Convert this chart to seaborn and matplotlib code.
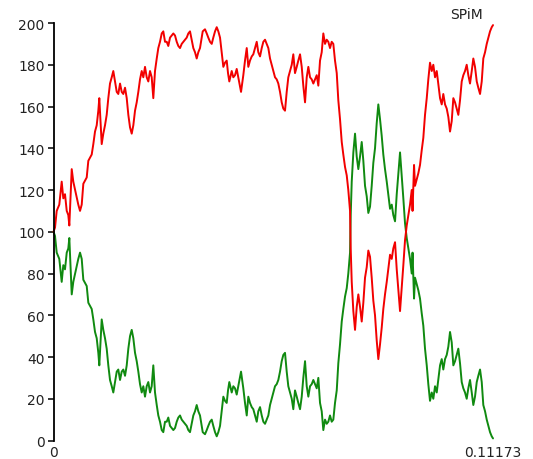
import numpy as np
import pandas as pd
import matplotlib
matplotlib.use("Agg")
import matplotlib.pyplot as plt
import seaborn as sns

# Simulation time points (s)
time = [
    0.0, 0.00038, 0.00081, 0.00147, 0.00208, 0.00249, 0.00292, 0.00336, 0.00376, 0.00402,
    0.00437, 0.00463, 0.00503, 0.00572, 0.00630, 0.00674, 0.00717, 0.00758, 0.00844, 0.00885,
    0.00971, 0.01012, 0.01055, 0.01098, 0.01139, 0.01164, 0.01225, 0.01266, 0.01309, 0.01352,
    0.01393, 0.01436, 0.01480, 0.01520, 0.01563, 0.01607, 0.01647, 0.01691, 0.01734, 0.01774,
    0.01818, 0.01861, 0.01902, 0.01945, 0.01988, 0.02029, 0.02072, 0.02115, 0.02156, 0.02199,
    0.02242, 0.02283, 0.02326, 0.02369, 0.02410, 0.02453, 0.02496, 0.02537, 0.02580, 0.02624,
    0.02664, 0.02707, 0.02751, 0.02791, 0.02835, 0.02878, 0.02918, 0.02962, 0.03005, 0.03046,
    0.03089, 0.03132, 0.03173, 0.03216, 0.03259, 0.03300, 0.03343, 0.03386, 0.03427, 0.03470,
    0.03513, 0.03554, 0.03597, 0.03640, 0.03681, 0.03724, 0.03768, 0.03793, 0.03851, 0.03895,
    0.03935, 0.03979, 0.04022, 0.04062, 0.04106, 0.04149, 0.04190, 0.04233, 0.04276, 0.04317,
    0.04360, 0.04403, 0.04436, 0.04469, 0.04530, 0.04571, 0.04614, 0.04657, 0.04698, 0.04741,
    0.04767, 0.04825, 0.04868, 0.04912, 0.04952, 0.04995, 0.05039, 0.05079, 0.05122, 0.05166,
    0.05206, 0.05250, 0.05293, 0.05334, 0.05377, 0.05420, 0.05461, 0.05504, 0.05547, 0.05588,
    0.05631, 0.05674, 0.05715, 0.05758, 0.05801, 0.05842, 0.05885, 0.05928, 0.05969, 0.06012,
    0.06056, 0.06096, 0.06139, 0.06183, 0.06223, 0.06267, 0.06310, 0.06350, 0.06394, 0.06437,
    0.06478, 0.06521, 0.06564, 0.06605, 0.06648, 0.06691, 0.06732, 0.06775, 0.06818, 0.06859,
    0.06902, 0.06945, 0.06986, 0.07029, 0.07072, 0.07113, 0.07156, 0.07200, 0.07240, 0.07283,
    0.07327, 0.07367, 0.07411, 0.07454, 0.07494, 0.07538, 0.07555, 0.07581, 0.07622, 0.07665,
    0.07708, 0.07749, 0.07792, 0.07835, 0.07876, 0.07919, 0.07962, 0.08003, 0.08046, 0.08089,
    0.08130, 0.08173, 0.08216, 0.08257, 0.08300, 0.08343, 0.08384, 0.08427, 0.08471, 0.08511,
    0.08555, 0.08598, 0.08638, 0.08682, 0.08725, 0.08766, 0.08809, 0.08852, 0.08893, 0.08936,
    0.08979, 0.09020, 0.09063, 0.09106, 0.09127, 0.09165, 0.09190, 0.09233, 0.09274, 0.09317,
    0.09360, 0.09401, 0.09444, 0.09488, 0.09528, 0.09571, 0.09615, 0.09655, 0.09699, 0.09742,
    0.09782, 0.09826, 0.09869, 0.09909, 0.09953, 0.09996, 0.10037, 0.10080, 0.10123, 0.10164,
    0.10207, 0.10250, 0.10291, 0.10334, 0.10377, 0.10418, 0.10461, 0.10504, 0.10545, 0.10588,
    0.10632, 0.10672, 0.10715, 0.10759, 0.10799, 0.10843, 0.10886, 0.10926, 0.10970, 0.11013,
    0.11054, 0.11097, 0.11140, 0.11173,
]

# Molecule counts of the red species
red_count = [
    100, 102, 110, 113, 124, 116, 118, 110, 108, 103,
    119, 130, 124, 118, 113, 110, 113, 123, 126, 134,
    137, 142, 148, 151, 158, 164, 142, 147, 151, 156,
    164, 171, 174, 177, 172, 167, 166, 171, 167, 166,
    169, 164, 156, 150, 147, 151, 158, 162, 167, 173,
    177, 174, 179, 174, 172, 177, 174, 164, 177, 183,
    188, 191, 195, 196, 191, 191, 189, 193, 194, 195,
    194, 191, 189, 188, 190, 191, 192, 193, 195, 196,
    192, 188, 186, 183, 186, 188, 193, 196, 197, 195,
    193, 191, 190, 193, 196, 198, 196, 193, 186, 179,
    181, 182, 176, 172, 177, 174, 175, 178, 174, 170,
    167, 175, 182, 188, 179, 182, 184, 185, 188, 191,
    186, 184, 188, 191, 192, 190, 188, 183, 180, 177,
    174, 173, 171, 167, 162, 159, 158, 167, 174, 177,
    180, 185, 176, 179, 182, 185, 179, 170, 162, 174,
    179, 174, 173, 171, 173, 175, 170, 182, 186, 195,
    190, 192, 191, 188, 191, 190, 182, 176, 163, 154,
    143, 137, 131, 127, 120, 110, 92, 76, 62, 53,
    64, 70, 64, 57, 66, 78, 83, 91, 88, 78,
    67, 60, 48, 39, 46, 54, 63, 70, 76, 82,
    89, 87, 92, 95, 82, 72, 62, 73, 84, 96,
    103, 108, 113, 120, 110, 132, 122, 125, 128, 132,
    139, 145, 156, 164, 173, 181, 177, 180, 174, 177,
    171, 164, 161, 166, 161, 159, 155, 148, 153, 164,
    162, 159, 156, 163, 172, 175, 177, 180, 175, 171,
    177, 183, 179, 172, 169, 166, 172, 183, 186, 190,
    193, 196, 198, 199,
]

# Molecule counts of the green species
green_count = [
    100, 98, 90, 87, 76, 84, 82, 90, 92, 97,
    81, 70, 76, 82, 87, 90, 87, 77, 74, 66,
    63, 58, 52, 49, 42, 36, 58, 53, 49, 44,
    36, 29, 26, 23, 28, 33, 34, 29, 33, 34,
    31, 36, 44, 50, 53, 49, 42, 38, 33, 27,
    23, 26, 21, 26, 28, 23, 26, 36, 23, 17,
    12, 9, 5, 4, 9, 9, 11, 7, 6, 5,
    6, 9, 11, 12, 10, 9, 8, 7, 5, 4,
    8, 12, 14, 17, 14, 12, 7, 4, 3, 5,
    7, 9, 10, 7, 4, 2, 4, 7, 14, 21,
    19, 18, 24, 28, 23, 26, 25, 22, 26, 30,
    33, 25, 18, 12, 21, 18, 16, 15, 12, 9,
    14, 16, 12, 9, 8, 10, 12, 17, 20, 23,
    26, 27, 29, 33, 38, 41, 42, 33, 26, 23,
    20, 15, 24, 21, 18, 15, 21, 30, 38, 26,
    21, 26, 27, 29, 27, 25, 30, 18, 14, 5,
    10, 8, 9, 12, 9, 10, 18, 24, 37, 46,
    57, 63, 69, 73, 80, 90, 108, 124, 138, 147,
    136, 130, 136, 143, 134, 122, 117, 109, 112, 122,
    133, 140, 152, 161, 154, 146, 137, 130, 124, 118,
    111, 113, 108, 105, 118, 128, 138, 127, 116, 104,
    97, 92, 87, 80, 90, 68, 78, 75, 72, 68,
    61, 55, 44, 36, 27, 19, 23, 20, 26, 23,
    29, 36, 39, 34, 39, 41, 45, 52, 47, 36,
    38, 41, 44, 37, 28, 25, 23, 20, 25, 29,
    23, 17, 21, 28, 31, 34, 28, 17, 14, 10,
    7, 4, 2, 1,
]

y_ticks = [0, 20, 40, 60, 80, 100, 120, 140, 160, 180, 200]
x_ticks = [0, 0.11173]
x_tick_labels = ["0", "0.11173"]

df = pd.concat([
    pd.DataFrame({"time": time, "count": green_count, "species": "green"}),
    pd.DataFrame({"time": time, "count": red_count, "species": "red"}),
], ignore_index=True)

sns.set_style("white")
plt.rcParams["font.family"] = ["DejaVu Sans"]

fig = plt.figure(figsize=(5.33, 4.60), dpi=100)
ax = fig.add_axes([0.1004, 0.0402, 0.8246, 0.9076])

sns.lineplot(data=df, x="time", y="count", hue="species",
             hue_order=["green", "red"],
             palette={"green": "#108a10", "red": "#f20000"},
             linewidth=1.4, legend=False, ax=ax, estimator=None, sort=False)

ax.set_xlim(0, 0.11173)
ax.set_ylim(0, 200)
ax.set_xlabel("")
ax.set_ylabel("")

ax.set_yticks(y_ticks)
ax.set_xticks(x_ticks)
ax.set_xticklabels(x_tick_labels)

for side in ("top", "right", "bottom"):
    ax.spines[side].set_visible(False)
ax.spines["left"].set_color("black")
ax.spines["left"].set_linewidth(1.3)

ax.tick_params(axis="y", left=True, length=4, width=1.1, color="black",
               pad=2.5, labelsize=10, labelcolor="#222222")
ax.tick_params(axis="x", bottom=False, length=0, pad=3.5,
               labelsize=10, labelcolor="#222222")

for line in ax.lines:
    line.set_clip_on(False)

fig.text(0.8755, 0.967, "SPiM", ha="center", va="center",
         fontsize=10, color="#222222")

fig.savefig("out.png", dpi=100)
